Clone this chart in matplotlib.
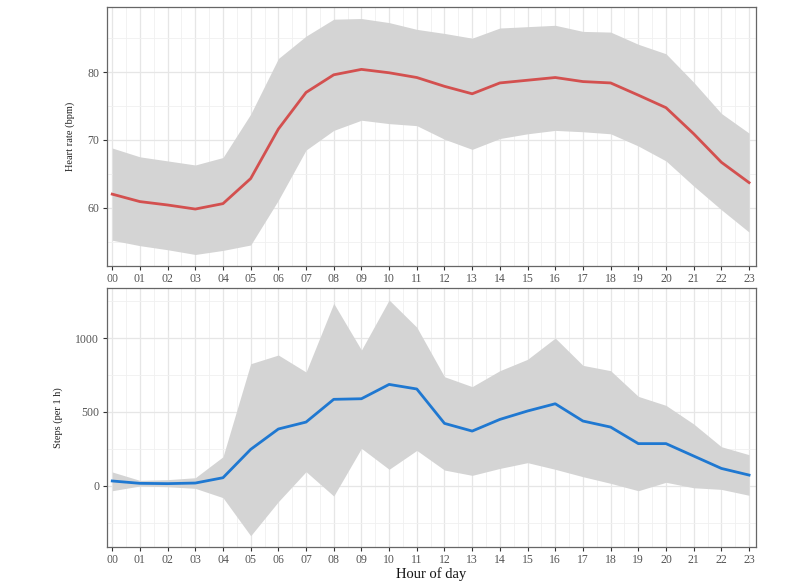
import matplotlib
matplotlib.use("Agg")
import matplotlib.pyplot as plt
import numpy as np

hours = list(range(24))
hour_labels = [f"{h:02d}" for h in hours]

hr_mean = [62.0, 60.9, 60.4, 59.8, 60.6, 64.3, 71.6, 77.0, 79.6, 80.4, 79.9, 79.2,
           77.9, 76.8, 78.4, 78.8, 79.2, 78.6, 78.4, 76.6, 74.75, 70.9, 66.7, 63.7]
hr_upper = [68.8, 67.5, 66.9, 66.3, 67.4, 73.8, 82.0, 85.3, 87.8, 87.9, 87.3, 86.3,
            85.7, 85.0, 86.5, 86.7, 86.9, 86.0, 85.9, 84.1, 82.7, 78.5, 73.9, 71.0]
hr_lower = [55.2, 54.4, 53.8, 53.1, 53.7, 54.5, 61.1, 68.5, 71.4, 72.9, 72.4, 72.1,
            70.1, 68.6, 70.2, 70.9, 71.4, 71.2, 70.9, 69.1, 66.9, 63.2, 59.7, 56.4]

steps_mean = [32, 16, 14, 18, 54, 246, 384, 431, 585, 589, 686, 655,
              422, 370, 449, 506, 555, 438, 397, 285, 285, 201, 117, 72]
steps_upper = [93, 36, 41, 54, 196, 826, 885, 770, 1235, 919, 1258, 1073,
               738, 671, 779, 856, 1000, 815, 779, 605, 544, 418, 264, 210]
steps_lower = [-34, -2, -7, -18, -81, -339, -108, 95, -70, 253, 111, 239,
               106, 70, 117, 156, 111, 61, 16, -34, 23, -14, -25, -65]

plt.rcParams['font.family'] = ['Liberation Serif', 'DejaVu Serif']

fig = plt.figure(figsize=(7.98, 5.83), dpi=100)
ax1 = fig.add_axes([0.1337, 0.5443, 0.8133, 0.4437])
ax2 = fig.add_axes([0.1337, 0.0623, 0.8133, 0.4442])

band_color = '#d4d4d4'

def style(ax, yticks, yminor):
    ax.set_xlim(-0.2, 23.24)
    ax.set_xticks(hours)
    ax.set_xticklabels(hour_labels)
    ax.set_xticks([h + 0.5 for h in hours[:-1]], minor=True)
    ax.set_yticks(yticks)
    ax.set_yticks(yminor, minor=True)
    ax.grid(True, which='major', color='#e6e6e6', linewidth=0.9, zorder=0)
    ax.grid(True, which='minor', color='#f0f0f0', linewidth=0.6, zorder=0)
    ax.set_axisbelow(True)
    ax.tick_params(axis='both', which='major', labelsize=8.5, labelcolor='#555555',
                   color='#333333', length=3, width=0.8, pad=2.5)
    ax.tick_params(axis='both', which='minor', length=0)
    for s in ax.spines.values():
        s.set_color('#666666')
        s.set_linewidth(0.9)

ax1.fill_between(hours, hr_lower, hr_upper, color=band_color, linewidth=0, zorder=2)
ax1.plot(hours, hr_mean, color='#d3504f', linewidth=2, zorder=3)
ax1.set_ylim(51.45, 89.6)
style(ax1, [60, 70, 80], [55, 65, 75, 85])
ax1.set_ylabel('Heart rate (bpm)', fontsize=7.5, color='#222222', labelpad=9)

ax2.fill_between(hours, steps_lower, steps_upper, color=band_color, linewidth=0, zorder=2)
ax2.plot(hours, steps_mean, color='#1f78d1', linewidth=2, zorder=3)
ax2.set_ylim(-413, 1341)
style(ax2, [0, 500, 1000], [-250, 250, 750, 1250])
ax2.set_ylabel('Steps (per 1 h)', fontsize=7.5, color='#222222', labelpad=9)
ax2.set_xlabel('Hour of day', fontsize=10.5, color='#111111', labelpad=1)

fig.savefig('out.png', dpi=100)
